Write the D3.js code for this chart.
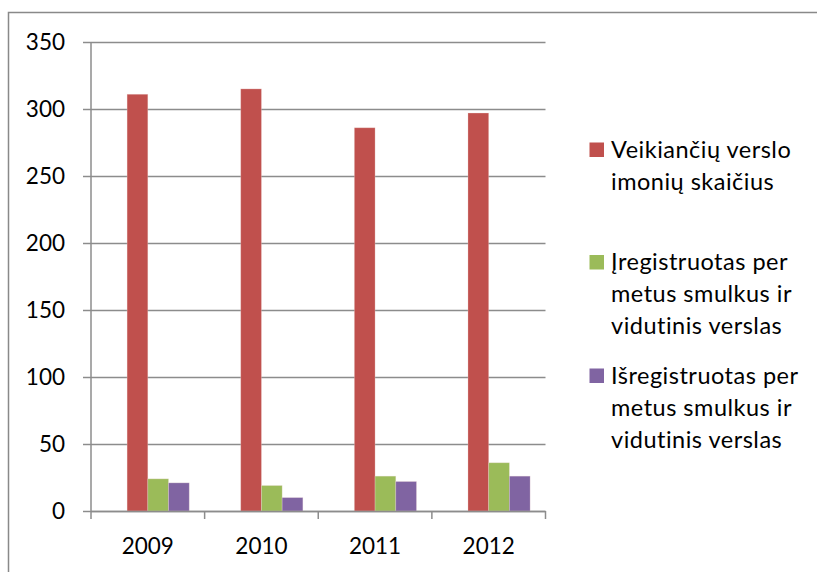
<!DOCTYPE html>
<html><head><meta charset="utf-8">
<script src="https://cdn.jsdelivr.net/npm/d3@7"></script>
<style>body{margin:0;background:#fff}svg{display:block}text{font-family:Lato,"Open Sans",sans-serif;fill:#000}</style>
</head><body><svg id="c" width="817" height="572"></svg>
<script>
const categories = ["2009","2010","2011","2012"];
const seriesNames = ["Veikiančių verslo imonių skaičius","Įregistruotas per metus smulkus ir vidutinis verslas","Išregistruotas per metus smulkus ir vidutinis verslas"];
const legendLines = [["Veikiančių verslo","imonių skaičius"],["Įregistruotas per","metus smulkus ir","vidutinis verslas"],["Išregistruotas per","metus smulkus ir","vidutinis verslas"]];
const veikianciu = [311,315,286,297];
const iregistruotas = [24,19,26,36];
const isregistruotas = [21,10,22,26];
const yTicks = [0,50,100,150,200,250,300,350];
const colors = ["#C0504D","#9BBB59","#8064A2"];

const svg = d3.select("#c");
const fs = 22.5;
// outer border
svg.append("path").attr("d","M8.5,572V12.5H817").attr("fill","none").attr("stroke","#898989").attr("stroke-width",1.5);

const x0 = d3.scaleBand().domain(categories).range([91,545.5]).paddingInner(0.271).paddingOuter(0.1355);
const slots = ["_blank","s0","s1","s2"];
const x1 = d3.scaleBand().domain(slots).range([0,x0.bandwidth()]);
const y = d3.scaleLinear().domain([0,350]).range([511,42]);

// gridlines
svg.append("g").selectAll("line").data(yTicks).join("line")
  .attr("x1",91).attr("x2",545.5).attr("y1",d=>Math.round(y(d))+0.5).attr("y2",d=>Math.round(y(d))+0.5)
  .attr("stroke","#8c8c8c").attr("stroke-width",1.5);

const series = [veikianciu, iregistruotas, isregistruotas];
series.forEach((vals,si)=>{
  svg.append("g").selectAll("rect").data(vals).join("rect")
    .attr("x",(d,i)=>x0(categories[i])+x1(slots[si+1]))
    .attr("width",x1.bandwidth())
    .attr("y",d=>y(d)).attr("height",d=>y(0)-y(d))
    .attr("fill",colors[si]).attr("stroke","#f2dcdb").attr("stroke-opacity",0.35).attr("stroke-width",0.8);
});

// y axis
const ya = svg.append("g").attr("transform","translate(91,0)")
  .call(d3.axisLeft(y).tickValues(yTicks).tickSize(8).tickPadding(18));
ya.select(".domain").attr("stroke","#8c8c8c").attr("stroke-width",1.5).attr("d","M0,42V511");
ya.selectAll(".tick line").attr("stroke","#8c8c8c").attr("stroke-width",1.5);
ya.selectAll("text").attr("font-size",fs).attr("font-family","Lato").attr("fill","#000");

// x axis
const xa = svg.append("g").attr("transform","translate(0,511)");
xa.append("line").attr("x1",91).attr("x2",545.5).attr("y1",0.5).attr("y2",0.5).attr("stroke","#8c8c8c").attr("stroke-width",1.5);
const bounds = categories.map(c=>x0(c)-x0.step()*x0.paddingInner()/2);
bounds.push(545.5);
xa.selectAll(".tk").data(bounds).join("line").attr("class","tk")
  .attr("x1",d=>d).attr("x2",d=>d).attr("y1",0).attr("y2",8).attr("stroke","#8c8c8c").attr("stroke-width",1.5);
xa.selectAll("text").data(categories).join("text")
  .attr("y",43).attr("text-anchor","middle").attr("font-size",fs).text(d=>d)
  .attr("x",(d,i)=>(bounds[i]+bounds[i+1])/2);

// legend
const legTops = [142.5,255,368.5];
const lg = svg.append("g");
legendLines.forEach((lines,i)=>{
  lg.append("rect").attr("x",589.5).attr("y",legTops[i]).attr("width",14.5).attr("height",14.5).attr("fill",colors[i]);
  lines.forEach((t,j)=>{
    lg.append("text").attr("x",611).attr("y",legTops[i]+15+j*32).attr("font-size",23.5).attr("letter-spacing",0.5).text(t);
  });
});
</script></body></html>
